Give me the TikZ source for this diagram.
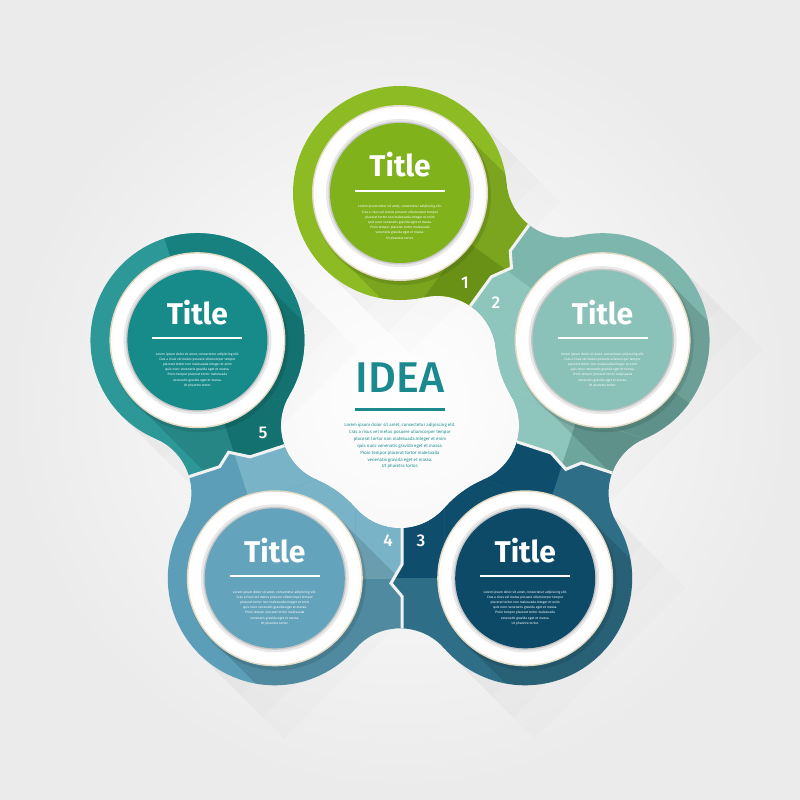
\documentclass[tikz,border=0pt]{standalone}
\usepackage{fontspec}
\setmainfont{Fira Sans}
\newfontfamily\medfont{Fira Sans Medium}
\usetikzlibrary{calc}

\definecolor{green1}{HTML}{8DBB24}
\definecolor{green2}{HTML}{78A61A}
\definecolor{gin}{HTML}{7FB21B}
\definecolor{mint1}{HTML}{7DB6AC}
\definecolor{mint2}{HTML}{8EC5BC}
\definecolor{mint3}{HTML}{6CA69C}
\definecolor{min}{HTML}{8AC1B8}
\definecolor{navy1}{HTML}{2E6E87}
\definecolor{navy2}{HTML}{0E4D6B}
\definecolor{nin}{HTML}{0D4A68}
\definecolor{blue1}{HTML}{5C9EB7}
\definecolor{blue2}{HTML}{79B3C7}
\definecolor{bin}{HTML}{63A3BB}
\definecolor{teal1}{HTML}{2C9898}
\definecolor{teal2}{HTML}{16817F}
\definecolor{tin}{HTML}{178A8A}
\definecolor{ideateal}{HTML}{1B8A8E}
\definecolor{ringedge}{HTML}{E3DBC5}

\newcommand\loremtext{Lorem ipsum dolor sit amet, consectetur adipiscing elit.\\Cras a risus vel metus posuere ullamcorper tempor\\placerat tortor non malesuada.Integer et enim\\quis nunc venenatis gravida eget et massa.\\Proin tempor placerat tortor  malesuada\\venenatis gravida eget et massa.\\Ut pharetra tortor.}

% long shadow of the white ring
\newcommand\longshade[1]{\fill[black,opacity=.12] ($(#1)+(45:88)$) -- ++(-45:400) -- ++(225:176) -- ($(#1)+(225:88)$) -- cycle;}

\newcommand\greentones{\fill[green1] (-400,-400) rectangle (400,400);
  \longshade{C1}}
\newcommand\greenneck{\fill[green1] (-400,-400) rectangle (400,400);
  \fill[green2,n12] (-500,0) rectangle (500,-500);
  \longshade{C1}}
\newcommand\minttones{\fill[mint1] (-400,-400) rectangle (400,400);
  \begin{scope}\clip[n12] (-500,0) rectangle (500,-500);
    \fill[mint2] (-400,-400) rectangle (400,400);
    \fill[mint3,n23] (-500,0) rectangle (500,500);
  \end{scope}
  \longshade{C2}}
\newcommand\navytones{\fill[navy1] (-400,-400) rectangle (400,400);
  \begin{scope}\clip[n23] (-500,0) rectangle (500,-500);
    \fill[navy2,n34] (-500,0) rectangle (500,-500);
  \end{scope}
  \longshade{C3}}
\newcommand\bluetones{\fill[blue1] (-400,-400) rectangle (400,400);
  \begin{scope}\clip[n34] (-500,0) rectangle (500,-500);
    \fill[blue2,n45] (-500,0) rectangle (500,-500);
  \end{scope}
  \longshade{C4}}
\newcommand\tealtones{\fill[teal1] (-400,-400) rectangle (400,400);
  \fill[teal2,n45] (-500,0) rectangle (500,-500);
  \longshade{C5}}

\tikzset{
  n12/.style={shift={(54:172.3)},rotate=-36},
  n23/.style={shift={(-18:172.3)},rotate=-108},
  n34/.style={shift={(-90:172.3)},rotate=-180},
  n45/.style={shift={(-162:172.3)},rotate=-252},
  neckshape/.style={insert path={(-44.5,70.3) -- (-44.5,-70.3) arc[start angle=138.96,end angle=41.04,radius=59] -- (44.5,70.3) arc[start angle=318.96,end angle=221.04,radius=59] -- cycle}},
  lefthalf/.style={insert path={(-2,120) -- (-2,18) -- (9,5) -- (-2,-14) -- (-2,-120) -- (-200,-120) -- (-200,120) -- cycle}},
  righthalf/.style={insert path={(-2,120) -- (-2,18) -- (9,5) -- (-2,-14) -- (-2,-120) -- (200,-120) -- (200,120) -- cycle}},
  gapline/.style={draw=white!95!black, line width=3pt},
  titletxt/.style={text=white, font=\fontsize{30}{30}\selectfont\bfseries, anchor=base, inner sep=0},
  rulebar/.style={fill=white, minimum width=90pt, minimum height=2.2pt, inner sep=0},
  smalltxt/.style={text=white, font=\fontsize{3.3}{5.2}\selectfont, align=center, inner sep=0},
  numtxt/.style={text=white, font=\medfont\fontsize{17}{17}\selectfont, inner sep=0},
  ideatxt/.style={text=ideateal, font=\medfont\fontsize{43}{43}\selectfont, anchor=base, inner sep=0},
  ideabar/.style={fill=ideateal, minimum width=90pt, minimum height=3pt, inner sep=0},
  ideabody/.style={text=ideateal, font=\fontsize{4.4}{6.9}\selectfont, align=center, inner sep=0},
}

\begin{document}
\begin{tikzpicture}[x=1pt,y=1pt]
  \useasboundingbox (-400,-394) rectangle (400,406);
  \shade[inner color=white, outer color=black!8] (-400,-394) rectangle (400,406);

  \coordinate (O) at (0,0);
  \foreach \i/\a in {1/90,2/18,3/-54,4/-126,5/162}
    \coordinate (C\i) at (\a:213);

  % soft shadows on the background
  \foreach \i in {1,...,5}
    \foreach \len in {30,60,90,120}
      \fill[black,opacity=.012] ($(C\i)+(45:107)$) -- ++(-45:\len) -- ++(225:214) -- ($(C\i)+(225:107)$) -- cycle;

  % segment 1
  \begin{scope}\clip (C1) circle[radius=107]; \greentones\end{scope}
  \begin{scope}\clip[n12,neckshape]; \clip[n12,lefthalf]; \greenneck\end{scope}
  % segment 2
  \begin{scope}\clip (C2) circle[radius=107]; \minttones\end{scope}
  \begin{scope}\clip[n12,neckshape]; \clip[n12,righthalf]; \minttones\end{scope}
  \begin{scope}\clip[n23,neckshape]; \clip[n23,lefthalf]; \minttones\end{scope}
  % segment 3
  \begin{scope}\clip (C3) circle[radius=107]; \navytones\end{scope}
  \begin{scope}\clip[n23,neckshape]; \clip[n23,righthalf]; \navytones\end{scope}
  \begin{scope}\clip[n34,neckshape]; \clip[n34,lefthalf]; \navytones\end{scope}
  % segment 4
  \begin{scope}\clip (C4) circle[radius=107]; \bluetones\end{scope}
  \begin{scope}\clip[n34,neckshape]; \clip[n34,righthalf]; \bluetones\end{scope}
  \begin{scope}\clip[n45,neckshape]; \clip[n45,lefthalf]; \bluetones\end{scope}
  % segment 5
  \begin{scope}\clip (C5) circle[radius=107]; \tealtones\end{scope}
  \begin{scope}\clip[n45,neckshape]; \clip[n45,righthalf]; \tealtones\end{scope}

  % joints
  \foreach \n in {n12,n23,n34,n45} {
    \begin{scope}
      \clip[\n,neckshape];
      \draw[gapline,\n] (-2,120) -- (-2,18) -- (9,5) -- (-2,-14) -- (-2,-120);
    \end{scope}
  }

  % rings
  \foreach \i/\col in {1/gin,2/min,3/nin,4/bin,5/tin} {
    \fill[black,opacity=.1] ($(C\i)+(2,-3)$) circle[radius=89];
    \fill[ringedge] (C\i) circle[radius=88];
    \fill[white!95!ringedge] (C\i) circle[radius=86.5];
    \fill[white] (C\i) circle[radius=83];
    \fill[black!9] (C\i) circle[radius=74];
    \fill[black!22] (C\i) circle[radius=71.5];
    \fill[\col] (C\i) circle[radius=70];
    \node[titletxt] (title\i) at ($(C\i)+(0,16)$) {Title};
    \node[rulebar] (bar\i) at ($(C\i)+(0,2)$) {};
    \node[smalltxt] (body\i) at ($(C\i)+(0,-29.5)$) {\loremtext};
  }

  \node[numtxt] (num1) at (65,123) {1};
  \node[numtxt] (num2) at (96,103) {2};
  \node[numtxt] (num3) at (21,-135) {3};
  \node[numtxt] (num4) at (-12,-135) {4};
  \node[numtxt] (num5) at (-137,-27) {5};

  % centre
  \node[ideatxt] (idea) at (0,13) {IDEA};
  \node[ideabar] (ideabar) at (0,-4) {};
  \node[ideabody] (ideabody) at (0,-40) {\loremtext};
\end{tikzpicture}
\end{document}
